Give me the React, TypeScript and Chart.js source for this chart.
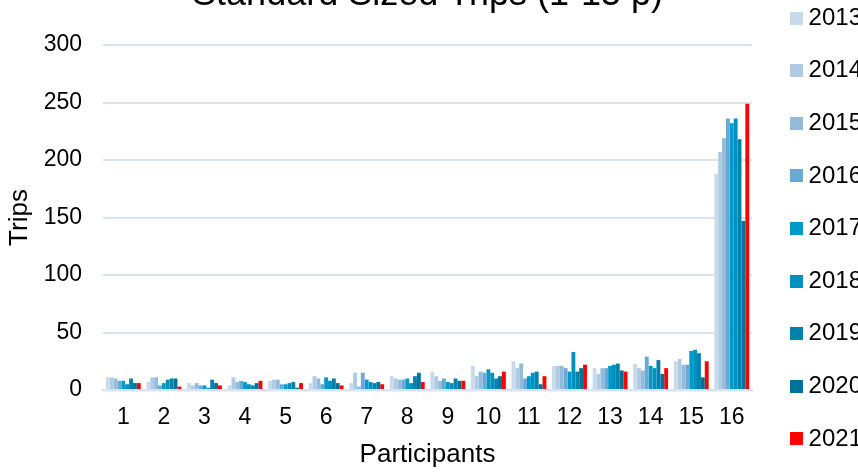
import React, { useEffect, useRef } from 'react';
import { Chart, registerables } from 'chart.js';

Chart.register(...registerables);

const participants = ['1', '2', '3', '4', '5', '6', '7', '8', '9', '10', '11', '12', '13', '14', '15', '16'];
const years = ['2013', '2014', '2015', '2016', '2017', '2018', '2019', '2020', '2021'];

const trips2013 = [11, 7, 6, 4, 8, 6, 6, 12, 16, 21, 25, 21, 19, 23, 25, 188];
const trips2014 = [11, 11, 4, 11, 9, 12, 15, 10, 12, 12, 19, 21, 14, 19, 27, 207];
const trips2015 = [10, 11, 6, 7, 9, 10, 3, 9, 8, 16, 23, 21, 19, 17, 22, 219];
const trips2016 = [8, 4, 4, 8, 5, 5, 15, 9, 10, 15, 10, 19, 19, 29, 22, 236];
const trips2017 = [8, 6, 4, 7, 5, 11, 9, 10, 7, 18, 12, 16, 21, 21, 34, 232];
const trips2018 = [5, 9, 2, 5, 6, 8, 7, 6, 6, 15, 15, 33, 22, 19, 35, 236];
const trips2019 = [10, 10, 9, 4, 7, 10, 6, 12, 10, 10, 16, 16, 23, 26, 32, 218];
const trips2020 = [6, 10, 6, 6, 2, 6, 7, 15, 8, 12, 5, 19, 17, 14, 11, 147];
const trips2021 = [6, 3, 4, 8, 6, 4, 5, 7, 8, 16, 12, 22, 16, 19, 25, 249];

const yearColors = ['#c7dbed', '#afcbe4', '#93bcdc', '#6aa9d4', '#0099cc', '#0090c0', '#0083aa', '#007399', '#ff0000'];

const yMin = 0;
const yMax = 300;
const yStep = 50;

const FONT = "'Liberation Sans', Arial, sans-serif";
const GRID = '#d9e4f2';
const SWATCH = 13;

function makeSwatch(color: string): HTMLCanvasElement {
  const c = document.createElement('canvas');
  c.width = SWATCH;
  c.height = SWATCH;
  const ctx = c.getContext('2d');
  if (ctx) {
    ctx.fillStyle = color;
    ctx.fillRect(0, 0, SWATCH, SWATCH);
  }
  return c;
}

export default function App() {
  const ref = useRef<HTMLCanvasElement>(null);

  useEffect(() => {
    document.documentElement.style.overflow = 'hidden';
    document.body.style.overflow = 'hidden';
    Chart.defaults.font.family = FONT;
    const series = [trips2013, trips2014, trips2015, trips2016, trips2017, trips2018, trips2019, trips2020, trips2021];
    const swatches = yearColors.map(makeSwatch);
    const baseLabels = (Chart.defaults as any).plugins.legend.labels.generateLabels;
    const chart = new Chart(ref.current as HTMLCanvasElement, {
      type: 'bar',
      data: {
        labels: participants,
        datasets: years.map((y, i) => ({
          label: y,
          data: series[i],
          backgroundColor: yearColors[i],
          borderWidth: 0,
          categoryPercentage: 0.86,
          barPercentage: 1,
        })),
      },
      options: {
        responsive: false,
        animation: false,
        devicePixelRatio: 1,
        layout: { padding: 0 },
        plugins: {
          title: {
            display: true,
            text: 'Standard Sized Trips (1-15 p)',
            font: { size: 36, weight: 'normal', family: FONT },
            color: '#000',
            padding: { top: 0, bottom: 28.8 },
            fullSize: false,
          },
          legend: {
            position: 'right',
            align: 'center',
            labels: {
              font: { size: 24, family: FONT },
              color: '#000',
              usePointStyle: true,
              boxWidth: 0.1,
              boxHeight: 13,
              padding: 28.6,
              generateLabels: (c: any) => {
                const items = baseLabels(c);
                items.forEach((it: any, i: number) => {
                  it.pointStyle = swatches[i];
                });
                return items;
              },
            },
          },
          tooltip: { enabled: false },
        },
        scales: {
          x: {
            grid: { display: false, drawTicks: false },
            border: { display: true, color: GRID, width: 2.5 },
            ticks: { font: { size: 23, family: FONT }, color: '#000', padding: 14 },
            title: {
              display: true,
              text: 'Participants',
              font: { size: 26, family: FONT },
              color: '#000',
              padding: { top: 0, bottom: 14 },
            },
            afterFit: (s: any) => { s.height = 94; },
          },
          y: {
            min: yMin,
            max: yMax,
            ticks: { stepSize: yStep, font: { size: 23, family: FONT }, color: '#000', padding: 21 },
            grid: { color: GRID, lineWidth: 2, drawTicks: false },
            border: { display: false },
            title: {
              display: true,
              text: 'Trips',
              font: { size: 26, family: FONT },
              color: '#000',
              padding: { top: 4, bottom: 0 },
            },
            afterFit: (s: any) => { s.width = 103; },
          },
          padR: {
            type: 'linear',
            position: 'right',
            display: true,
            grid: { display: false, drawTicks: false },
            border: { display: false },
            ticks: { display: false },
            afterFit: (s: any) => { s.width = 15.85; },
          },
        },
      } as any,
    });
    return () => chart.destroy();
  }, []);

  return (
    <div style={{ position: 'fixed', left: 0, top: -27, width: 872, height: 511 }}>
      <canvas ref={ref} width={872} height={511} style={{ display: 'block', width: 872, height: 511 }} />
    </div>
  );
}
